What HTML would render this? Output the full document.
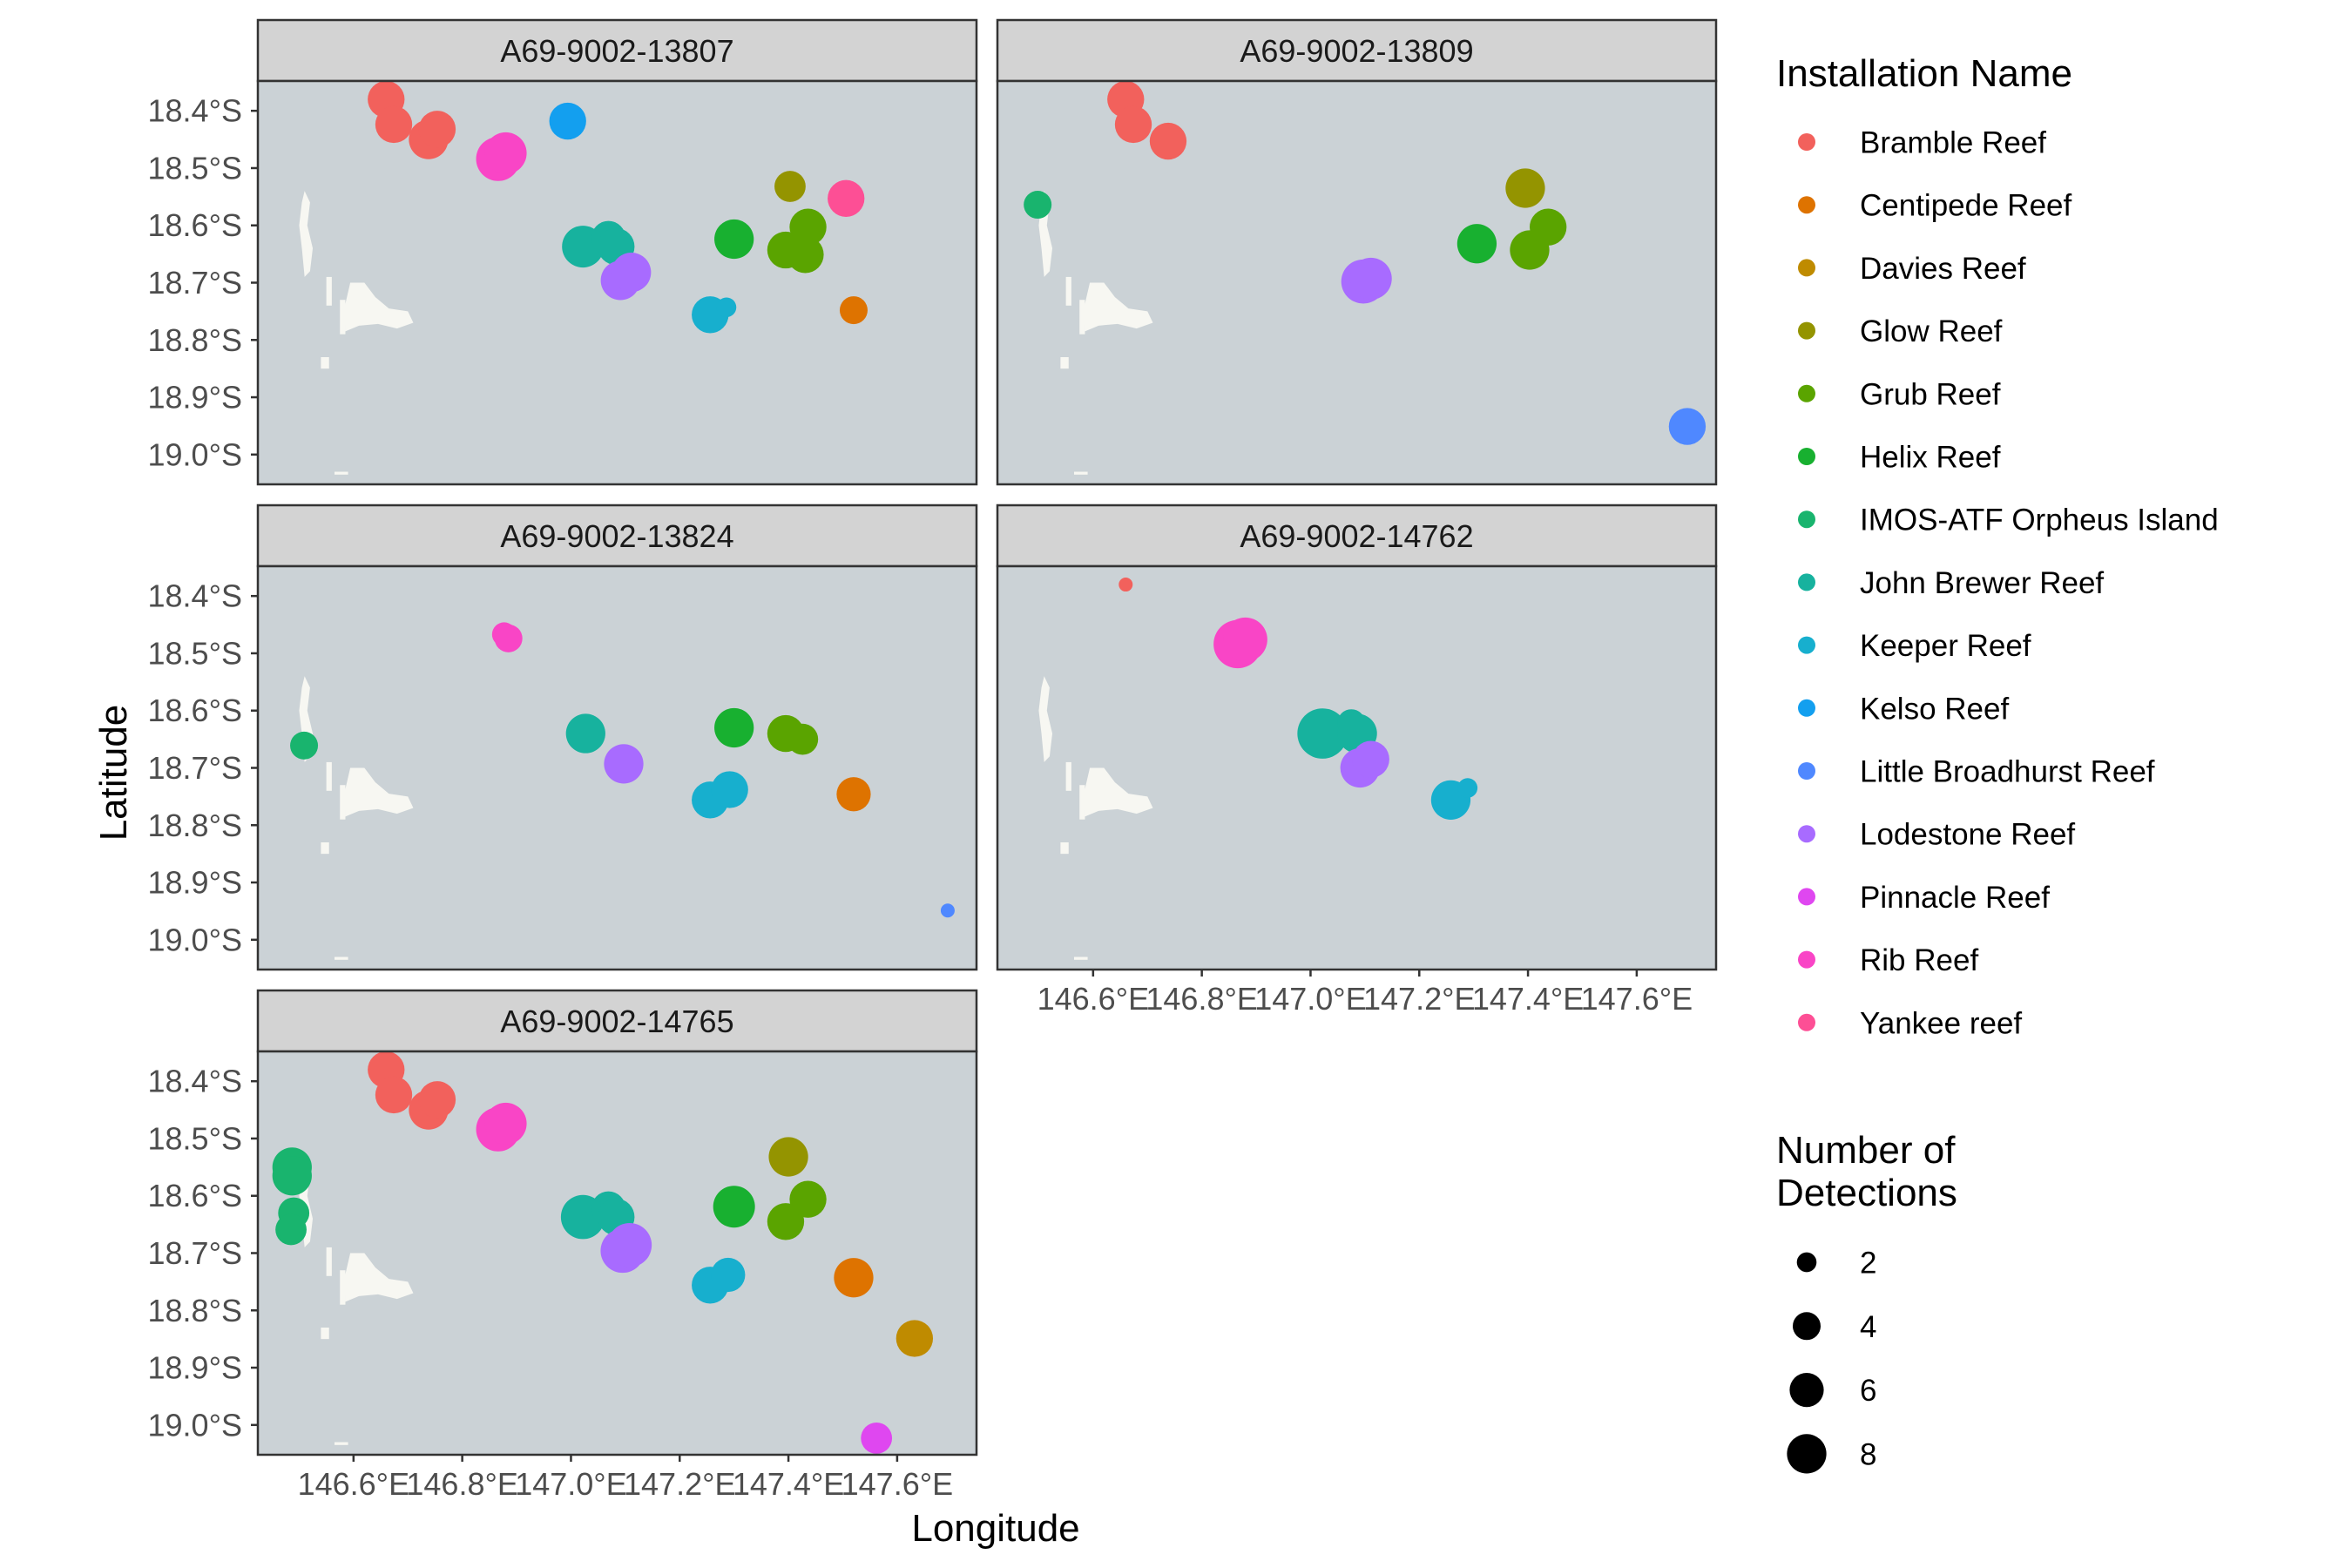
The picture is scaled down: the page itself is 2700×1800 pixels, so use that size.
<!DOCTYPE html>
<html><head><meta charset="utf-8"><style>
body{margin:0;background:#fff}
svg{display:block;font-family:"Liberation Sans",Arial,sans-serif}
</style></head><body>
<svg id="chart" width="2700" height="1800" xmlns="http://www.w3.org/2000/svg"></svg>
<script>
const panelNames = ["A69-9002-13807","A69-9002-13809","A69-9002-13824","A69-9002-14762","A69-9002-14765"];
const installations = ["Bramble Reef","Centipede Reef","Davies Reef","Glow Reef","Grub Reef","Helix Reef","IMOS-ATF Orpheus Island","John Brewer Reef","Keeper Reef","Kelso Reef","Little Broadhurst Reef","Lodestone Reef","Pinnacle Reef","Rib Reef","Yankee reef"];
const colors = ["#F2615C","#DE7300","#BF8B00","#949400","#5AA400","#18B030","#19B46E","#17B29E","#17AFCE","#139FEF","#4F88FF","#A86BFF","#DF47F0","#F945C6","#FD4F95"];
const latTicks = [18.4,18.5,18.6,18.7,18.8,18.9,19.0];
const lonTicks = [146.6,146.8,147.0,147.2,147.4,147.6];
const sizeLegend = [2,4,6,8];
const pPanel = [0,0,0,0, 0,0, 0, 0,0,0, 0,0, 0,0, 0, 0,0,0, 0, 0, 0,
 1,1,1, 1, 1,1, 1, 1, 1,1, 1,
 2,2, 2, 2, 2, 2,2, 2, 2,2, 2, 2,
 3, 3,3, 3,3,3, 3,3, 3,3,
 4,4,4,4, 4,4,4,4, 4,4, 4,4,4, 4,4, 4,4, 4, 4,4, 4, 4, 4, 4];
const pInst = [0,0,0,0, 13,13, 9, 7,7,7, 11,11, 8,8, 5, 4,4,4, 3, 14, 1,
 0,0,0, 6, 11,11, 5, 3, 4,4, 10,
 13,13, 6, 7, 11, 8,8, 5, 4,4, 1, 10,
 0, 13,13, 7,7,7, 11,11, 8,8,
 0,0,0,0, 6,6,6,6, 13,13, 7,7,7, 11,11, 8,8, 5, 4,4, 3, 1, 2, 12];
const pLon = [146.660,146.674,146.738,146.754, 146.866,146.880, 146.994, 147.022,147.069,147.083, 147.091,147.111, 147.256,147.286, 147.300, 147.395,147.436,147.431, 147.403, 147.506, 147.520,
 146.660,146.674,146.738, 146.498, 147.097,147.111, 147.306, 147.395, 147.403,147.437, 147.693,
 146.877,146.885, 146.509, 147.027, 147.097, 147.256,147.292, 147.300, 147.395,147.426, 147.520, 147.693,
 146.660, 146.866,146.880, 147.022,147.075,147.086, 147.091,147.111, 147.258,147.289,
 146.660,146.674,146.738,146.754, 146.487,146.487,146.490,146.485, 146.866,146.880, 147.022,147.069,147.083, 147.095,147.108, 147.256,147.289, 147.300, 147.395,147.436, 147.400, 147.520, 147.632, 147.562];
const pLat = [18.380,18.424,18.450,18.432, 18.484,18.474, 18.418, 18.637,18.622,18.637, 18.696,18.682, 18.756,18.743, 18.624, 18.643,18.603,18.651, 18.532, 18.553, 18.748,
 18.380,18.424,18.453, 18.564, 18.698,18.693, 18.632, 18.535, 18.643,18.603, 18.951,
 18.467,18.474, 18.661, 18.640, 18.693, 18.756,18.738, 18.630, 18.640,18.650, 18.746, 18.949,
 18.380, 18.484,18.476, 18.640,18.622,18.640, 18.700,18.685, 18.756,18.735,
 18.380,18.424,18.450,18.432, 18.550,18.565,18.630,18.659, 18.484,18.474, 18.637,18.622,18.637, 18.696,18.686, 18.756,18.738, 18.619, 18.645,18.606, 18.532, 18.743, 18.849, 19.023];
const pCount = [7,7,8,7, 10,9, 7, 9,6,7, 8,8, 7,2, 8, 7,7,7, 5, 7, 4,
 7,7,7, 4, 10,9, 8, 8, 8,7, 7,
 3,4, 4, 8, 8, 7,7, 8, 7,5, 6, 1,
 1, 12,10, 13,4,8, 8,7, 8,2,
 7,7,8,7, 8,8,5,5, 10,9, 10,6,7, 10,10, 7,6, 9, 7,7, 8, 8, 7, 5];

const NS="http://www.w3.org/2000/svg";
const svg=document.getElementById('chart');
function mk(tag,attrs,parent,text){const e=document.createElementNS(NS,tag);for(const k in attrs)e.setAttribute(k,attrs[k]);if(text!==undefined)e.textContent=text;(parent||svg).appendChild(e);return e;}
const colX=[296,1145], rowY=[23,580,1137], PW=825, SH=70, PH=463;
const lonMin=146.424, lonMax=147.746, latMin=18.348, latMax=19.052;
function xs(lon,x0){return x0+(lon-lonMin)/(lonMax-lonMin)*PW;}
function ys(lat,y0){return y0+(lat-latMin)/(latMax-latMin)*PH;}
function rs(n){return 8*Math.sqrt(n);}
const landMain=[[146.594,18.700],[146.62,18.70],[146.64,18.725],[146.665,18.745],[146.70,18.75],[146.71,18.77],[146.68,18.78],[146.645,18.772],[146.61,18.775],[146.585,18.785],[146.583,18.745]];
const landChain=[[146.51,18.54],[146.52,18.56],[146.515,18.6],[146.525,18.64],[146.52,18.68],[146.51,18.69],[146.505,18.64],[146.5,18.6],[146.505,18.56]];
const landBits=[[146.55,18.69,146.56,18.74],[146.575,18.73,146.585,18.79],[146.54,18.83,146.555,18.85],[146.565,19.03,146.59,19.035]];

panelNames.forEach((nm,i)=>{
  const c=i%2, r=Math.floor(i/2), x0=colX[c], sy=rowY[r], py=sy+SH;
  const g=mk('g',{},svg);
  
  
  const strip=mk('rect',{x:x0,y:sy,width:PW,height:SH,fill:'#D3D3D3',stroke:'#333',"stroke-width":2.5},g);
  
  
  const st=mk('text',{x:x0+PW/2,y:sy+SH/2+13,"text-anchor":"middle","font-size":36,fill:'#1a1a1a'},g,nm);
  
  
  const bg=mk('rect',{x:x0,y:py,width:PW,height:PH,fill:'#CBD2D6'},g);
  
  
  const poly=a=>a.map(p=>xs(p[0],x0)+','+ys(p[1],py)).join(' ');
  const l1=mk('polygon',{points:poly(landMain),fill:'#F7F7F2'},g);
  
  
  const l2=mk('polygon',{points:poly(landChain),fill:'#F7F7F2'},g);
  
  
  landBits.forEach(b=>{const e=mk('rect',{x:xs(b[0],x0),y:ys(b[1],py),width:xs(b[2],x0)-xs(b[0],x0),height:ys(b[3],py)-ys(b[1],py),fill:'#F7F7F2'},g);
    
    });
  for(let k=0;k<pPanel.length;k++){
    if(pPanel[k]!==i)continue;
    const d=mk('circle',{cx:xs(pLon[k],x0),cy:ys(pLat[k],py),r:rs(pCount[k]),fill:colors[pInst[k]]},g);
    
    
  }
  const br=mk('rect',{x:x0,y:py,width:PW,height:PH,fill:'none',stroke:'#333',"stroke-width":2.5},g);
  
  
  if(c===0){
    latTicks.forEach(t=>{const y=ys(t,py);
      mk('line',{x1:x0-8,x2:x0,y1:y,y2:y,stroke:'#333',"stroke-width":2.5},g);
      const tl=mk('text',{x:x0-18,y:y+12.5,"text-anchor":"end","font-size":36,fill:'#4d4d4d'},g,t.toFixed(1)+'°S');
      
      });
  }
  if(i===3||i===4){
    lonTicks.forEach(t=>{const x=xs(t,x0);
      mk('line',{x1:x,x2:x,y1:py+PH,y2:py+PH+8,stroke:'#333',"stroke-width":2.5},g);
      const tl=mk('text',{x:x,y:py+PH+46,"text-anchor":"middle","font-size":36,fill:'#4d4d4d'},g,t.toFixed(1)+'°E');
      
      });
  }
});
const yt=mk('text',{x:145,y:887,"text-anchor":"middle","font-size":44,fill:'#000',transform:'rotate(-90 145 887)'},svg,'Latitude');


const xt=mk('text',{x:1143,y:1769,"text-anchor":"middle","font-size":44,fill:'#000'},svg,'Longitude');


const lt=mk('text',{x:2039,y:99,"font-size":44,fill:'#000'},svg,'Installation Name');


installations.forEach((n,k)=>{const y=163+k*72.2;
  const g=mk('g',{},svg);
  
  
  mk('circle',{cx:2074,cy:y,r:10,fill:colors[k]},g);
  mk('text',{x:2135,y:y+12.5,"font-size":35,fill:'#000'},g,n);});
const s1=mk('text',{x:2039,y:1335,"font-size":44,fill:'#000'},svg,'Number of');


mk('text',{x:2039,y:1384,"font-size":44,fill:'#000'},svg,'Detections');
sizeLegend.forEach((n,k)=>{const y=1449+k*73.3;
  const g=mk('g',{},svg);
  
  
  mk('circle',{cx:2095-21,cy:y,r:rs(n),fill:'#000'},g);
  mk('text',{x:2135,y:y+12.5,"font-size":35,fill:'#000'},g,String(n));});
</script>
</body></html>
